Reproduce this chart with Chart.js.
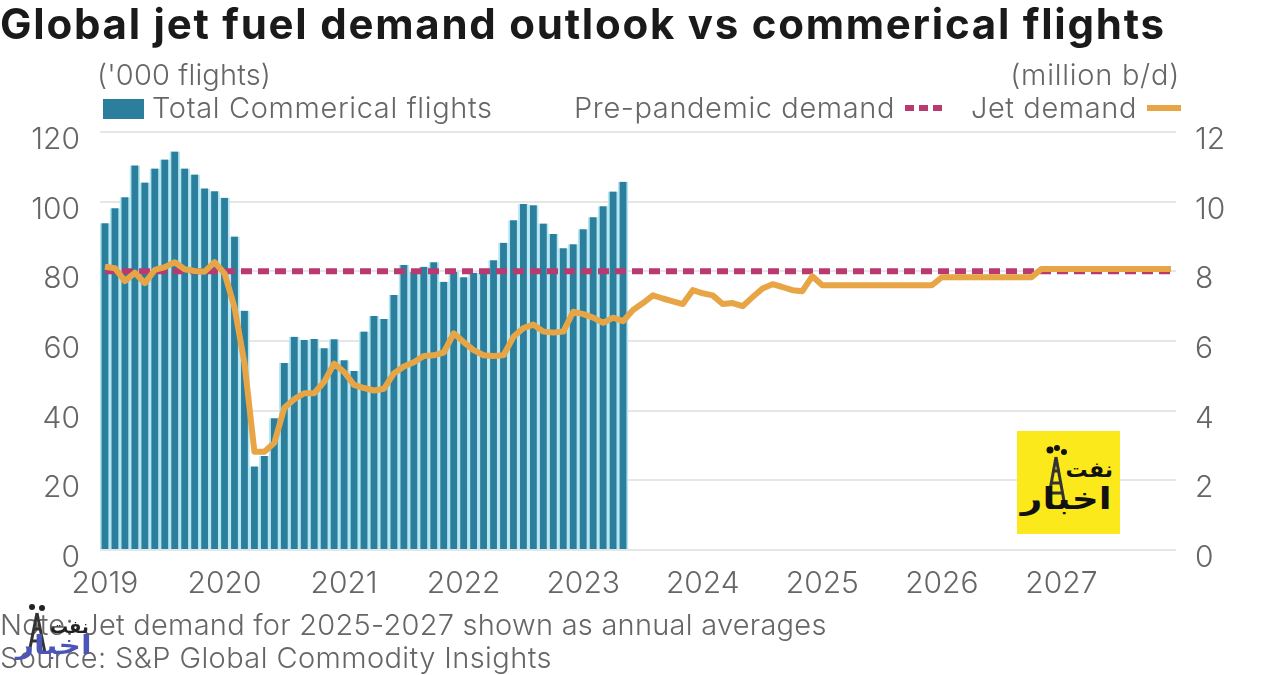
<!DOCTYPE html>
<html>
<head>
<meta charset="utf-8">
<script src="https://cdn.jsdelivr.net/npm/chart.js@4"></script>
<style>
  body { margin: 0; background: #fff; font-family: Inter, sans-serif; color: #666; overflow: hidden; }
  #wrap { position: relative; width: 1280px; height: 675px; }
  canvas { position: absolute; left: 0; top: 0; }
  .t { position: absolute; white-space: nowrap; font-size: 29px; line-height: 32px; font-weight: 300; }
  #title { left: 0; top: 1px; font-size: 42px; line-height: 46px; font-weight: 700; color: #1a1a1a; letter-spacing: 1.75px; }
  .sw { position: absolute; }
  #logo { position: absolute; left: 1017px; top: 431px; width: 103px; height: 103px; background: #fbe91c; }
  .ar { position: absolute; white-space: nowrap; direction: rtl; font-family: "DejaVu Sans", sans-serif; font-weight: 700; }
</style>
</head>
<body>
<div id="wrap">
  <canvas id="c" width="1280" height="675"></canvas>
  <div class="t" id="title">Global jet fuel demand outlook vs commerical flights</div>
  <div class="t" style="left:97px;top:59px;letter-spacing:.15px">('000 flights)</div>
  <div class="t" style="right:100px;top:59px;letter-spacing:.75px">(million b/d)</div>
  <div class="sw" style="left:103px;top:99px;width:41px;height:20px;background:#2b7f9c"></div>
  <div class="t" style="left:152px;top:92px;letter-spacing:.65px">Total Commerical flights</div>
  <div class="t" style="right:385px;top:92px;letter-spacing:.6px">Pre-pandemic demand</div>
  <div class="sw" style="left:905px;top:105px;width:9px;height:6px;background:#b83a70"></div>
  <div class="sw" style="left:919px;top:105px;width:9px;height:6px;background:#b83a70"></div>
  <div class="sw" style="left:933px;top:105px;width:9px;height:6px;background:#b83a70"></div>
  <div class="t" style="right:143px;top:92px;letter-spacing:.6px">Jet demand</div>
  <div class="sw" style="left:1147px;top:105px;width:34px;height:6px;background:#e8a546"></div>
  <div class="t" style="left:0;top:609px;letter-spacing:.25px">Note: Jet demand for 2025-2027 shown as annual averages</div>
  <div class="t" style="left:0;top:642px;letter-spacing:.4px">Source: S&amp;P Global Commodity Insights</div>

  <div id="logo">
    <svg style="position:absolute;left:22px;top:14px" width="34" height="58" viewBox="0 0 34 58">
      <path d="M17 12 L9 56 M17 12 L25 56 M13 26 H21 M11 38 H23 M10 48 H24" stroke="#333" stroke-width="3" fill="none"/>
      <circle cx="11" cy="5" r="3.5" fill="#111"/><circle cx="18" cy="3" r="3" fill="#111"/><circle cx="25" cy="7" r="3" fill="#111"/>
    </svg>
    <div class="ar" style="right:7px;top:26px;font-size:22px;color:#111">نفت</div>
    <div class="ar" style="right:8px;top:50px;font-size:30px;color:#111;transform:scaleX(1.25);transform-origin:right center">اخبار</div>
  </div>
  <svg style="position:absolute;left:24px;top:603px" width="26" height="52" viewBox="0 0 26 52">
    <path d="M13 10 L5 50 M13 10 L21 50 M9 26 H17 M7 38 H19" stroke="#333" stroke-width="3" fill="none"/>
    <circle cx="8" cy="4" r="3" fill="#222"/><circle cx="18" cy="5" r="3" fill="#222"/>
  </svg>
  <div class="ar" style="left:50px;top:616px;font-size:18px;color:#222">نفت</div>
  <div class="ar" style="left:16px;top:630px;font-size:26px;color:#4a55b5;transform:scaleX(1.2);transform-origin:left center">اخبار</div>
</div>
<script>
const years = ["2019", "2020", "2021", "2022", "2023", "2024", "2025", "2026", "2027"];
const months = ["01", "02", "03", "04", "05", "06", "07", "08", "09", "10", "11", "12"];
const categories = years.flatMap(y => months.map(m => `${y}-${m}`));

const flights = [
  93.8, 98.1, 101.3, 110.4, 105.5, 109.5, 112.1, 114.4, 109.5, 107.8, 103.8, 103.0,
  101.1, 90.0, 68.7, 24.0, 27.0, 37.8, 53.7, 61.2, 60.3, 60.6, 57.9, 60.5,
  54.5, 51.4, 62.7, 67.2, 66.3, 73.2, 81.8, 79.8, 81.3, 82.6, 77.0, 79.9,
  78.3, 79.6, 80.0, 83.2, 88.2, 94.7, 99.3, 99.0, 93.7, 90.7, 86.6, 87.8,
  92.1, 95.5, 98.7, 102.9, 105.7,
];
const jetDemand = [
  8.13, 8.09, 7.72, 7.96, 7.66, 8.04, 8.12, 8.26, 8.06, 8.01, 7.99, 8.26,
  7.94, 6.97, 5.37, 2.82, 2.82, 3.08, 4.08, 4.33, 4.5, 4.5, 4.83, 5.35,
  5.11, 4.74, 4.65, 4.58, 4.63, 5.07, 5.27, 5.39, 5.57, 5.59, 5.67, 6.22,
  5.97, 5.74, 5.59, 5.57, 5.59, 6.12, 6.37, 6.47, 6.27, 6.24, 6.27, 6.84,
  6.77, 6.67, 6.52, 6.67, 6.57, 6.89, 7.09, 7.31, 7.22, 7.14, 7.06, 7.46,
  7.37, 7.31, 7.06, 7.09, 7.0, 7.26, 7.51, 7.63, 7.55, 7.46, 7.43, 7.86,
  7.6, 7.6, 7.6, 7.6, 7.6, 7.6, 7.6, 7.6, 7.6, 7.6, 7.6, 7.6,
  7.83, 7.83, 7.83, 7.83, 7.83, 7.83, 7.83, 7.83, 7.83, 7.83, 8.07, 8.07,
  8.07, 8.07, 8.07, 8.07, 8.07, 8.07, 8.07, 8.07, 8.07, 8.07, 8.07, 8.07,
];
const prePandemic = [
  8, 8, 8, 8, 8, 8, 8, 8, 8, 8, 8, 8,
  8, 8, 8, 8, 8, 8, 8, 8, 8, 8, 8, 8,
  8, 8, 8, 8, 8, 8, 8, 8, 8, 8, 8, 8,
  8, 8, 8, 8, 8, 8, 8, 8, 8, 8, 8, 8,
  8, 8, 8, 8, 8, 8, 8, 8, 8, 8, 8, 8,
  8, 8, 8, 8, 8, 8, 8, 8, 8, 8, 8, 8,
  8, 8, 8, 8, 8, 8, 8, 8, 8, 8, 8, 8,
  8, 8, 8, 8, 8, 8, 8, 8, 8, 8, 8, 8,
  8, 8, 8, 8, 8, 8, 8, 8, 8, 8, 8, 8,
];

const tickFont = { family: "Inter", size: 30, weight: "300" };

new Chart(document.getElementById("c"), {
  data: {
    labels: categories,
    datasets: [
      { type: "line", label: "Jet demand", data: jetDemand, yAxisID: "yr", order: 1,
        borderColor: "#e8a546", borderWidth: 6, pointRadius: 0, tension: 0, borderJoinStyle: "round" },
      { type: "line", label: "Pre-pandemic demand", data: prePandemic, yAxisID: "yr", order: 2,
        borderColor: "#b83a70", borderWidth: 6, borderDash: [11, 6], pointRadius: 0 },
      { type: "bar", label: "Total Commerical flights", data: flights, yAxisID: "yl", order: 3,
        backgroundColor: "#2b7f9c", borderColor: "#b5e6f2", borderSkipped: false,
        borderWidth: { top: 0, bottom: 0, left: 1.9, right: 1.9 },
        barPercentage: 1, categoryPercentage: 1 },
    ],
  },
  options: {
    responsive: false,
    animation: false,
    layout: { padding: { top: 132, left: 0, right: 0, bottom: 0 } },
    plugins: { legend: { display: false }, title: { display: false }, tooltip: { enabled: false } },
    scales: {
      x: {
        grid: { display: false }, border: { display: false },
        ticks: {
          autoSkip: false, maxRotation: 0, minRotation: 0, padding: 8, color: "#666", font: tickFont,
          callback(value, index) { return index % 12 === 0 ? years[index / 12] : ""; },
        },
        afterFit(s) { s.height = 125; },
      },
      yl: {
        position: "left", min: 0, max: 120,
        grid: { color: "#e6e6e6", lineWidth: 2, drawTicks: false }, border: { display: false },
        ticks: { stepSize: 20, padding: 20, color: "#666", font: tickFont, labelOffset: 8 },
        afterFit(s) { s.width = 100; },
      },
      yr: {
        position: "right", min: 0, max: 12,
        grid: { display: false, drawOnChartArea: false }, border: { display: false },
        ticks: { stepSize: 2, padding: 11, color: "#666", font: tickFont, labelOffset: 8 },
        afterFit(s) { s.width = 104; },
      },
    },
  },
});
</script>
</body>
</html>
